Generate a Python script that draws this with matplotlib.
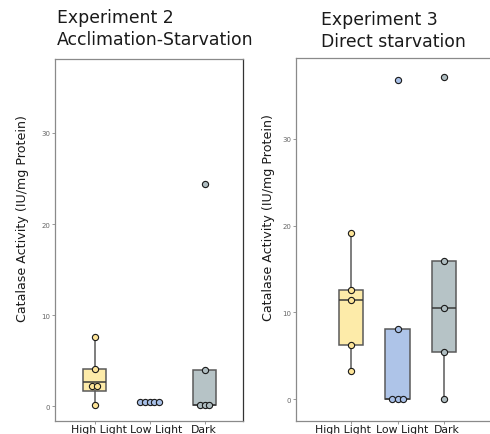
import numpy as np
import matplotlib
matplotlib.use("Agg")
import matplotlib.pyplot as plt
from matplotlib.transforms import ScaledTranslation, blended_transform_factory

categories = ["High Light", "Low Light", "Dark"]

# Experiment 2: acclimation followed by starvation
exp2_high = [7.6, 4.1, 2.2, 2.2, 0.15]
exp2_low = [0.45, 0.45, 0.45, 0.45, 0.45]
exp2_dark = [24.4, 4.0, 0.15, 0.15, 0.15]
# box summaries: whisker low, Q1, median, Q3, whisker high
exp2_box_high = [0.15, 1.7, 2.7, 4.1, 7.6]
exp2_box_low = [0.4, 0.4, 0.4, 0.4, 0.4]
exp2_box_dark = [0.15, 0.15, 0.15, 4.0, 4.0]

# Experiment 3: direct starvation
exp3_high = [19.2, 12.6, 11.4, 6.3, 3.3]
exp3_low = [36.8, 8.1, 0.0, 0.0, 0.0]
exp3_dark = [37.1, 15.9, 10.5, 5.4, 0.0]
exp3_box_high = [3.3, 6.3, 11.4, 12.6, 19.2]
exp3_box_low = [0.0, 0.0, 0.0, 8.1, 8.1]
exp3_box_dark = [0.0, 5.4, 10.5, 15.9, 15.9]

box_colors = ["#FDEBA9", "#AEC4E8", "#B6C3C6"]
dot_colors = ["#FDE497", "#A8C0E8", "#AFBDC1"]

W, H = 490, 435
fig = plt.figure(figsize=(W / 100, H / 100), dpi=100)


def px_axes(left, right, top, bottom):
    return fig.add_axes([left / W, (H - bottom) / H, (right - left) / W, (bottom - top) / H])


def draw_panel(ax, values, boxes, xlim, ylim, dot_step, width, label_shift, ylabel_x):
    stats = []
    for b in boxes:
        stats.append(dict(whislo=b[0], q1=b[1], med=b[2], q3=b[3], whishi=b[4], fliers=[]))
    bp = ax.bxp(stats, positions=[1, 2, 3], widths=width, patch_artist=True,
                showcaps=False, showfliers=False,
                boxprops=dict(edgecolor="#5a5a5a", linewidth=1.1),
                medianprops=dict(color="#3a3a3a", linewidth=1.1),
                whiskerprops=dict(color="#5a5a5a", linewidth=1.1))
    for patch, c in zip(bp["boxes"], box_colors):
        patch.set_facecolor(c)
    # centred dot stacks: equal values sit side by side
    for i, vals in enumerate(values):
        vals = np.asarray(vals)
        for v in np.unique(vals):
            n = int(np.sum(vals == v))
            offs = (np.arange(n) - (n - 1) / 2) * dot_step
            ax.scatter(i + 1 + offs, [v] * n, s=20, facecolor=dot_colors[i],
                       edgecolor="#1a1a1a", linewidth=0.8, zorder=3)
    ax.set_xlim(*xlim)
    ax.set_ylim(*ylim)
    ax.set_xticks([1, 2, 3])
    ax.set_xticklabels([])
    # category names under the ticks, nudged sideways so they don't collide
    base = blended_transform_factory(ax.transData, ax.transAxes)
    for i, (name, dx) in enumerate(zip(categories, label_shift)):
        ax.text(i + 1, 0, name, fontsize=7.8, color="#1a1a1a", ha="center", va="top",
                transform=base + ScaledTranslation(dx / 100, -0.035, fig.dpi_scale_trans))
    ax.set_yticks([0, 10, 20, 30])
    ax.tick_params(axis="y", labelsize=5, labelcolor="#666666", length=2,
                   color="#888888", width=0.6, pad=1.5)
    ax.tick_params(axis="x", length=2, color="#888888", width=0.6)
    for s in ax.spines.values():
        s.set_color("#8a8a8a")
        s.set_linewidth(0.9)
    ax.set_ylabel("Catalase Activity (IU/mg Protein)", fontsize=9.1, color="#1a1a1a")
    ax.yaxis.set_label_coords(ylabel_x / W, 0.563,
                              transform=blended_transform_factory(fig.transFigure, ax.transAxes))


ax1 = px_axes(55, 243, 60, 422)
draw_panel(ax1, [exp2_high, exp2_low, exp2_dark],
           [exp2_box_high, exp2_box_low, exp2_box_dark],
           (0.28, 3.70), (-1.6, 38.1), 0.09, 0.43, (4, 7, -1), 29)
ax1.spines["right"].set_color("#333333")

ax2 = px_axes(296, 490, 59, 422)
draw_panel(ax2, [exp3_high, exp3_low, exp3_dark],
           [exp3_box_high, exp3_box_low, exp3_box_dark],
           (-0.183, 3.989), (-2.5, 39.3), 0.11, 0.52, (-8, 5, 3), 275)
ax2.spines["right"].set_visible(False)

fig.text(57 / W, 1 - 29 / H, "Experiment 2\nAcclimation-Starvation", fontsize=12.4,
         color="#1a1a1a", ha="left", va="center", linespacing=1.28)
fig.text(321 / W, 1 - 31 / H, "Experiment 3\nDirect starvation", fontsize=12.4,
         color="#1a1a1a", ha="left", va="center", linespacing=1.28)

fig.savefig("out.png", dpi=100, facecolor="white")
